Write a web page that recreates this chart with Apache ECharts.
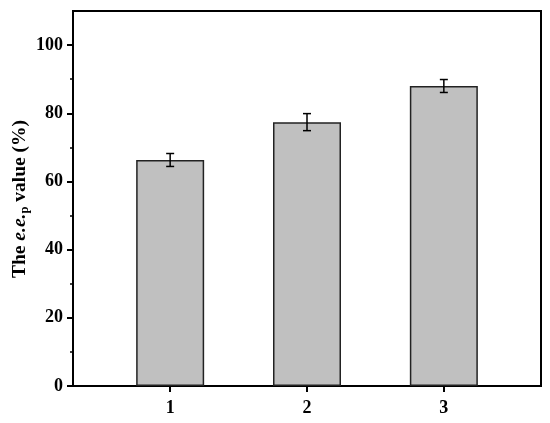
<!DOCTYPE html>
<html>
<head>
<meta charset="utf-8">
<script src="https://cdn.jsdelivr.net/npm/echarts@6/dist/echarts.min.js"></script>
<style>
  * { margin: 0; padding: 0; }
  #main { width: 550px; height: 423px; background: #fff; }
</style>
</head>
<body>
<div id="main"></div>
<script>
// data
var categories = [1, 2, 3];
var values = [66.3, 77.4, 88.0];
var errors = [1.9, 2.5, 1.9];
var yTicks = [0, 20, 40, 60, 80, 100];

var font = '"Liberation Serif", "Times New Roman", serif';

var barData = categories.map(function (c, i) { return [c, values[i]]; });
var errData = categories.map(function (c, i) { return [c, values[i] - errors[i], values[i] + errors[i]]; });

var chart = echarts.init(document.getElementById('main'));
chart.setOption({
  animation: false,
  grid: {
    left: 73, right: 9, top: 11, bottom: 37,
    show: true, borderColor: '#000', borderWidth: 2
  },
  xAxis: {
    type: 'value',
    min: 0.29, max: 3.71,
    splitLine: { show: false },
    axisLine: { show: true, lineStyle: { color: '#000', width: 2 } },
    axisTick: { show: true, length: 6, customValues: categories, lineStyle: { color: '#000', width: 2 } },
    axisLabel: {
      customValues: categories, margin: 13,
      color: '#000', fontFamily: font, fontWeight: 'bold', fontSize: 18
    }
  },
  yAxis: {
    type: 'value',
    min: 0, max: 110, interval: 20,
    splitLine: { show: false },
    axisLine: { show: true, lineStyle: { color: '#000', width: 2 } },
    axisTick: { show: true, length: 6, customValues: yTicks, lineStyle: { color: '#000', width: 2 } },
    minorTick: { show: true, splitNumber: 2, length: 3, lineStyle: { color: '#000', width: 1.5 } },
    axisLabel: {
      customValues: yTicks, margin: 10,
      color: '#000', fontFamily: font, fontWeight: 'bold', fontSize: 18
    }
  },
  graphic: [{
    type: 'text',
    x: 20, y: 199,
    rotation: Math.PI / 2,
    style: {
      text: '{n|The }{i|e.e.}{s|p}{n| value (%)}',
      align: 'center', verticalAlign: 'middle',
      fill: '#000',
      rich: {
        n: { fontFamily: font, fontWeight: 'bold', fontSize: 19.5, fill: '#000' },
        i: { fontFamily: font, fontWeight: 'bold', fontStyle: 'italic', fontSize: 19.5, fill: '#000' },
        s: { fontFamily: font, fontWeight: 'bold', fontSize: 12.5, fill: '#000', padding: [9, 0, 0, 0] }
      }
    }
  }],
  series: [{
    type: 'bar',
    data: barData,
    barWidth: 68,
    itemStyle: { color: '#c0c0c0', borderColor: '#222', borderWidth: 1.5 }
  }, {
    type: 'custom',
    data: errData,
    z: 5,
    renderItem: function (params, api) {
      var x = api.value(0);
      var lo = api.coord([x, api.value(1)]);
      var hi = api.coord([x, api.value(2)]);
      var w = 4;
      var st = { stroke: '#000', lineWidth: 1.5 };
      return {
        type: 'group',
        children: [
          { type: 'line', shape: { x1: hi[0], y1: hi[1], x2: lo[0], y2: lo[1] }, style: st },
          { type: 'line', shape: { x1: hi[0] - w, y1: hi[1], x2: hi[0] + w, y2: hi[1] }, style: st },
          { type: 'line', shape: { x1: lo[0] - w, y1: lo[1], x2: lo[0] + w, y2: lo[1] }, style: st }
        ]
      };
    }
  }]
});
</script>
</body>
</html>
